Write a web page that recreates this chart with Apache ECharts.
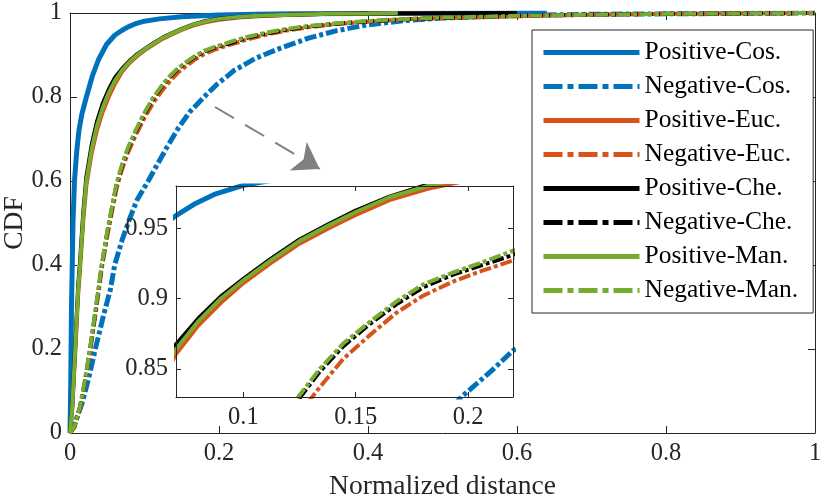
<!DOCTYPE html>
<html>
<head>
<meta charset="utf-8">
<script src="https://cdn.jsdelivr.net/npm/echarts@6/dist/echarts.min.js"></script>
<style>html,body{margin:0;padding:0;background:#fff;}#c{width:823px;height:501px;}</style>
</head>
<body>
<div id="c"></div>
<script>
// ---------------- data ----------------
const seriesNames = ['Positive-Cos.', 'Negative-Cos.', 'Positive-Euc.', 'Negative-Euc.',
                     'Positive-Che.', 'Negative-Che.', 'Positive-Man.', 'Negative-Man.'];

const posCosX = [0, 0.001, 0.002, 0.004, 0.006, 0.009, 0.012, 0.016, 0.022, 0.03, 0.038, 0.049, 0.06, 0.07, 0.078, 0.087, 0.1, 0.12, 0.15, 0.2, 0.25, 0.3, 0.4, 0.5, 0.64];
const posCosY = [0, 0.12, 0.3, 0.5, 0.6, 0.67, 0.72, 0.76, 0.8, 0.85, 0.888, 0.925, 0.947, 0.959, 0.967, 0.974, 0.9805, 0.986, 0.991, 0.995, 0.997, 0.998, 0.999, 0.9995, 1];

const negCosX = [0, 0.008, 0.016, 0.025, 0.034, 0.045, 0.054, 0.06, 0.07, 0.08, 0.09, 0.105, 0.118, 0.13, 0.145, 0.161, 0.18, 0.197, 0.21, 0.22, 0.25, 0.282, 0.32, 0.358, 0.4, 0.45, 0.5, 0.6, 0.7, 0.8, 0.9, 1];
const negCosY = [0, 0.03, 0.07, 0.13, 0.2, 0.28, 0.34, 0.4, 0.46, 0.51, 0.555, 0.6, 0.642, 0.68, 0.725, 0.765, 0.8, 0.83, 0.848, 0.863, 0.893, 0.916, 0.94, 0.958, 0.972, 0.982, 0.988, 0.994, 0.997, 0.998, 0.999, 1];

const posEucX = [0, 0.003, 0.007, 0.011, 0.0135, 0.018, 0.022, 0.029, 0.036, 0.044, 0.052, 0.06, 0.07, 0.08, 0.09, 0.1, 0.112, 0.125, 0.138, 0.15, 0.165, 0.182, 0.2, 0.23, 0.26, 0.3, 0.35, 0.4, 0.5];
const posEucY = [0, 0.055, 0.19, 0.33, 0.39, 0.51, 0.59, 0.665, 0.72, 0.765, 0.8, 0.83, 0.8605, 0.881, 0.897, 0.911, 0.925, 0.939, 0.95, 0.9595, 0.97, 0.978, 0.984, 0.99, 0.993, 0.996, 0.998, 0.999, 1];

const posCheX = [0, 0.003, 0.007, 0.011, 0.0135, 0.018, 0.022, 0.029, 0.036, 0.044, 0.052, 0.06, 0.07, 0.08, 0.09, 0.1, 0.112, 0.125, 0.138, 0.15, 0.165, 0.182, 0.2, 0.23, 0.26, 0.3, 0.35, 0.4, 0.5, 0.6];
const posCheY = [0, 0.065, 0.21, 0.35, 0.41, 0.53, 0.61, 0.685, 0.74, 0.785, 0.818, 0.845, 0.8675, 0.886, 0.9015, 0.914, 0.928, 0.942, 0.953, 0.9625, 0.9725, 0.981, 0.9865, 0.991, 0.994, 0.996, 0.998, 0.999, 0.9995, 1];

const posManX = [0, 0.003, 0.007, 0.011, 0.0135, 0.018, 0.022, 0.029, 0.036, 0.044, 0.052, 0.06, 0.07, 0.08, 0.09, 0.1, 0.112, 0.125, 0.138, 0.15, 0.165, 0.182, 0.2, 0.23, 0.26, 0.3, 0.35, 0.4, 0.44];
const posManY = [0, 0.06, 0.2, 0.34, 0.4, 0.52, 0.6, 0.675, 0.73, 0.775, 0.81, 0.838, 0.864, 0.884, 0.9, 0.913, 0.927, 0.941, 0.952, 0.9615, 0.972, 0.98, 0.986, 0.991, 0.994, 0.996, 0.998, 0.999, 1];

const negX = [0, 0.006, 0.0134, 0.02, 0.0268, 0.032, 0.038, 0.0425, 0.05, 0.0565, 0.0626, 0.07, 0.078, 0.088, 0.1, 0.112, 0.1244, 0.134, 0.1444, 0.1563, 0.1682, 0.18, 0.1933, 0.2067, 0.22, 0.24, 0.26, 0.29, 0.32, 0.36, 0.4, 0.45, 0.5, 0.55, 0.62, 0.7, 0.8, 0.9, 1];
const negEucY = [0, 0.013, 0.058, 0.118, 0.19, 0.255, 0.33, 0.39, 0.468, 0.528, 0.583, 0.628, 0.668, 0.708, 0.75, 0.787, 0.817, 0.837, 0.857, 0.874, 0.89, 0.902, 0.912, 0.92, 0.927, 0.938, 0.947, 0.958, 0.966, 0.974, 0.979, 0.985, 0.988, 0.990, 0.993, 0.996, 0.998, 0.999, 1];
const negCheY = [0, 0.015, 0.062, 0.123, 0.198, 0.262, 0.337, 0.397, 0.477, 0.537, 0.592, 0.637, 0.677, 0.717, 0.76, 0.797, 0.828, 0.848, 0.866, 0.882, 0.896, 0.908, 0.917, 0.924, 0.931, 0.942, 0.95, 0.96, 0.968, 0.975, 0.98, 0.985, 0.988, 0.991, 0.994, 0.996, 0.998, 0.999, 1];
const negManY = [0, 0.015, 0.063, 0.125, 0.2, 0.265, 0.34, 0.4, 0.48, 0.54, 0.595, 0.64, 0.68, 0.72, 0.763, 0.8, 0.83, 0.85, 0.868, 0.8835, 0.898, 0.91, 0.9185, 0.926, 0.934, 0.944, 0.952, 0.962, 0.969, 0.976, 0.981, 0.986, 0.989, 0.991, 0.994, 0.996, 0.998, 0.999, 1];

const mainTicks = [0, 0.2, 0.4, 0.6, 0.8, 1];
const insetXTicks = [0.1, 0.15, 0.2];
const insetYTicks = [0.85, 0.9, 0.95];
const insetXRange = [0.07, 0.22];
const insetYRange = [0.83, 0.98];
const arrowFrom = [0.1946, 0.7762];
const arrowTo = [0.3352, 0.6288];

// ---------------- styling ----------------
const FONT = '"Liberation Serif", "Times New Roman", serif';
const AX = '#262626';
const BLUE = '#0072BD', RED = '#D95319', BLACK = '#000000', GREEN = '#77AC30';
const DASHDOT = [12, 3, 4, 3];
const LEGEND_DASHDOT = [19, 5, 6, 5];

const curves = [
  { name: seriesNames[0], xs: posCosX, ys: posCosY, color: BLUE,  type: 'solid', w: 5 },
  { name: seriesNames[1], xs: negCosX, ys: negCosY, color: BLUE,  type: DASHDOT, w: 5 },
  { name: seriesNames[2], xs: posEucX, ys: posEucY, color: RED,   type: 'solid', w: 4 },
  { name: seriesNames[3], xs: negX,    ys: negEucY, color: RED,   type: DASHDOT, w: 4 },
  { name: seriesNames[4], xs: posCheX, ys: posCheY, color: BLACK, type: 'solid', w: 4 },
  { name: seriesNames[5], xs: negX,    ys: negCheY, color: BLACK, type: DASHDOT, w: 4 },
  { name: seriesNames[6], xs: posManX, ys: posManY, color: GREEN, type: 'solid', w: 4 },
  { name: seriesNames[7], xs: negX,    ys: negManY, color: GREEN, type: DASHDOT, w: 4 }
];

function pairs(xs, ys) { return xs.map((x, i) => [x, ys[i]]); }

const series = [];
curves.forEach(c => {
  series.push({
    name: c.name, type: 'line', xAxisIndex: 0, yAxisIndex: 0,
    data: pairs(c.xs, c.ys), symbol: 'none', showSymbol: false, clip: true,
    lineStyle: { color: c.color, width: c.w, type: c.type, cap: 'butt' },
    itemStyle: { color: c.color }, silent: true, animation: false
  });
});
curves.forEach(c => {
  series.push({
    name: c.name, type: 'line', xAxisIndex: 2, yAxisIndex: 2, zlevel: 1, z: 5,
    data: pairs(c.xs, c.ys), symbol: 'none', showSymbol: false, clip: true,
    lineStyle: { color: c.color, width: c.w, type: c.type, cap: 'butt' },
    itemStyle: { color: c.color }, silent: true, animation: false
  });
});
// annotation arrow (in data coordinates of the main axes)
series.push({
  type: 'line', xAxisIndex: 0, yAxisIndex: 0, data: [], symbol: 'none', silent: true, animation: false,
  markLine: {
    silent: true, animation: false, label: { show: false },
    lineStyle: { color: '#808080', width: 2, type: [22, 13] },
    emphasis: { disabled: true },
    data: [[
      { coord: arrowFrom, symbol: 'none' },
      { coord: arrowTo, symbol: 'arrow', symbolSize: 25 }
    ]]
  }
});

function axisBase(extra) {
  return Object.assign({
    type: 'value',
    axisLine: { show: true, onZero: false, lineStyle: { color: AX, width: 1 } },
    splitLine: { show: false },
    axisLabel: { fontFamily: FONT, fontSize: 24.5, color: AX, margin: 8 },
    axisTick: { inside: true, length: 7, lineStyle: { color: AX } }
  }, extra);
}

const legendData = curves.map(c => ({
  name: c.name,
  lineStyle: { type: c.type === 'solid' ? 'solid' : LEGEND_DASHDOT, width: 5 }
}));

const option = {
  backgroundColor: '#fff',
  animation: false,
  grid: [
    { left: 70, top: 13, width: 745, height: 420, outerBoundsMode: 'none', containLabel: false },
    { left: 176, top: 186, width: 337, height: 211, outerBoundsMode: 'none', containLabel: false,
      show: true, backgroundColor: '#fff', borderWidth: 0, zlevel: 1, z: 0 }
  ],
  xAxis: [
    axisBase({ gridIndex: 0, min: 0, max: 1, interval: 0.2, position: 'bottom',
      name: 'Normalized distance', nameLocation: 'middle', nameGap: 40,
      nameTextStyle: { fontFamily: FONT, fontSize: 27.5, color: AX } }),
    axisBase({ gridIndex: 0, min: 0, max: 1, interval: 0.2, position: 'top',
      axisLabel: { show: false } }),
    axisBase({ gridIndex: 1, min: insetXRange[0], max: insetXRange[1], position: 'bottom', zlevel: 1, z: 8,
      axisLabel: { fontFamily: FONT, fontSize: 24.5, color: AX, margin: 8, customValues: insetXTicks },
      axisTick: { inside: true, length: 5, lineStyle: { color: AX }, customValues: insetXTicks } }),
    axisBase({ gridIndex: 1, min: insetXRange[0], max: insetXRange[1], position: 'top', zlevel: 1, z: 8,
      axisLabel: { show: false },
      axisTick: { inside: true, length: 5, lineStyle: { color: AX }, customValues: insetXTicks } })
  ],
  yAxis: [
    axisBase({ gridIndex: 0, min: 0, max: 1, interval: 0.2, position: 'left',
      name: 'CDF', nameLocation: 'middle', nameGap: 41, nameRotate: 90, nameMoveOverlap: false,
      nameTextStyle: { fontFamily: FONT, fontSize: 27.5, color: AX } }),
    axisBase({ gridIndex: 0, min: 0, max: 1, interval: 0.2, position: 'right',
      axisLabel: { show: false } }),
    axisBase({ gridIndex: 1, min: insetYRange[0], max: insetYRange[1], position: 'left', zlevel: 1, z: 8,
      axisLabel: { fontFamily: FONT, fontSize: 24.5, color: AX, margin: 8, customValues: insetYTicks },
      axisTick: { inside: true, length: 5, lineStyle: { color: AX }, customValues: insetYTicks } }),
    axisBase({ gridIndex: 1, min: insetYRange[0], max: insetYRange[1], position: 'right', zlevel: 1, z: 8,
      axisLabel: { show: false },
      axisTick: { inside: true, length: 5, lineStyle: { color: AX }, customValues: insetYTicks } })
  ],
  legend: {
    data: legendData, orient: 'vertical', left: 532, top: 30,
    padding: [9.5, 15, 9.5, 9], itemWidth: 96, itemHeight: 14, itemGap: 8,
    backgroundColor: '#fff', borderColor: AX, borderWidth: 1, borderRadius: 0,
    textStyle: { fontFamily: FONT, fontSize: 25.5, color: '#000', lineHeight: 24 },
    itemStyle: { opacity: 0 },
    lineStyle: { width: 5 }, selectedMode: false, zlevel: 2
  },
  series: series
};

const chart = echarts.init(document.getElementById('c'), null, { renderer: 'canvas' });
chart.setOption(option);
</script>
</body>
</html>
